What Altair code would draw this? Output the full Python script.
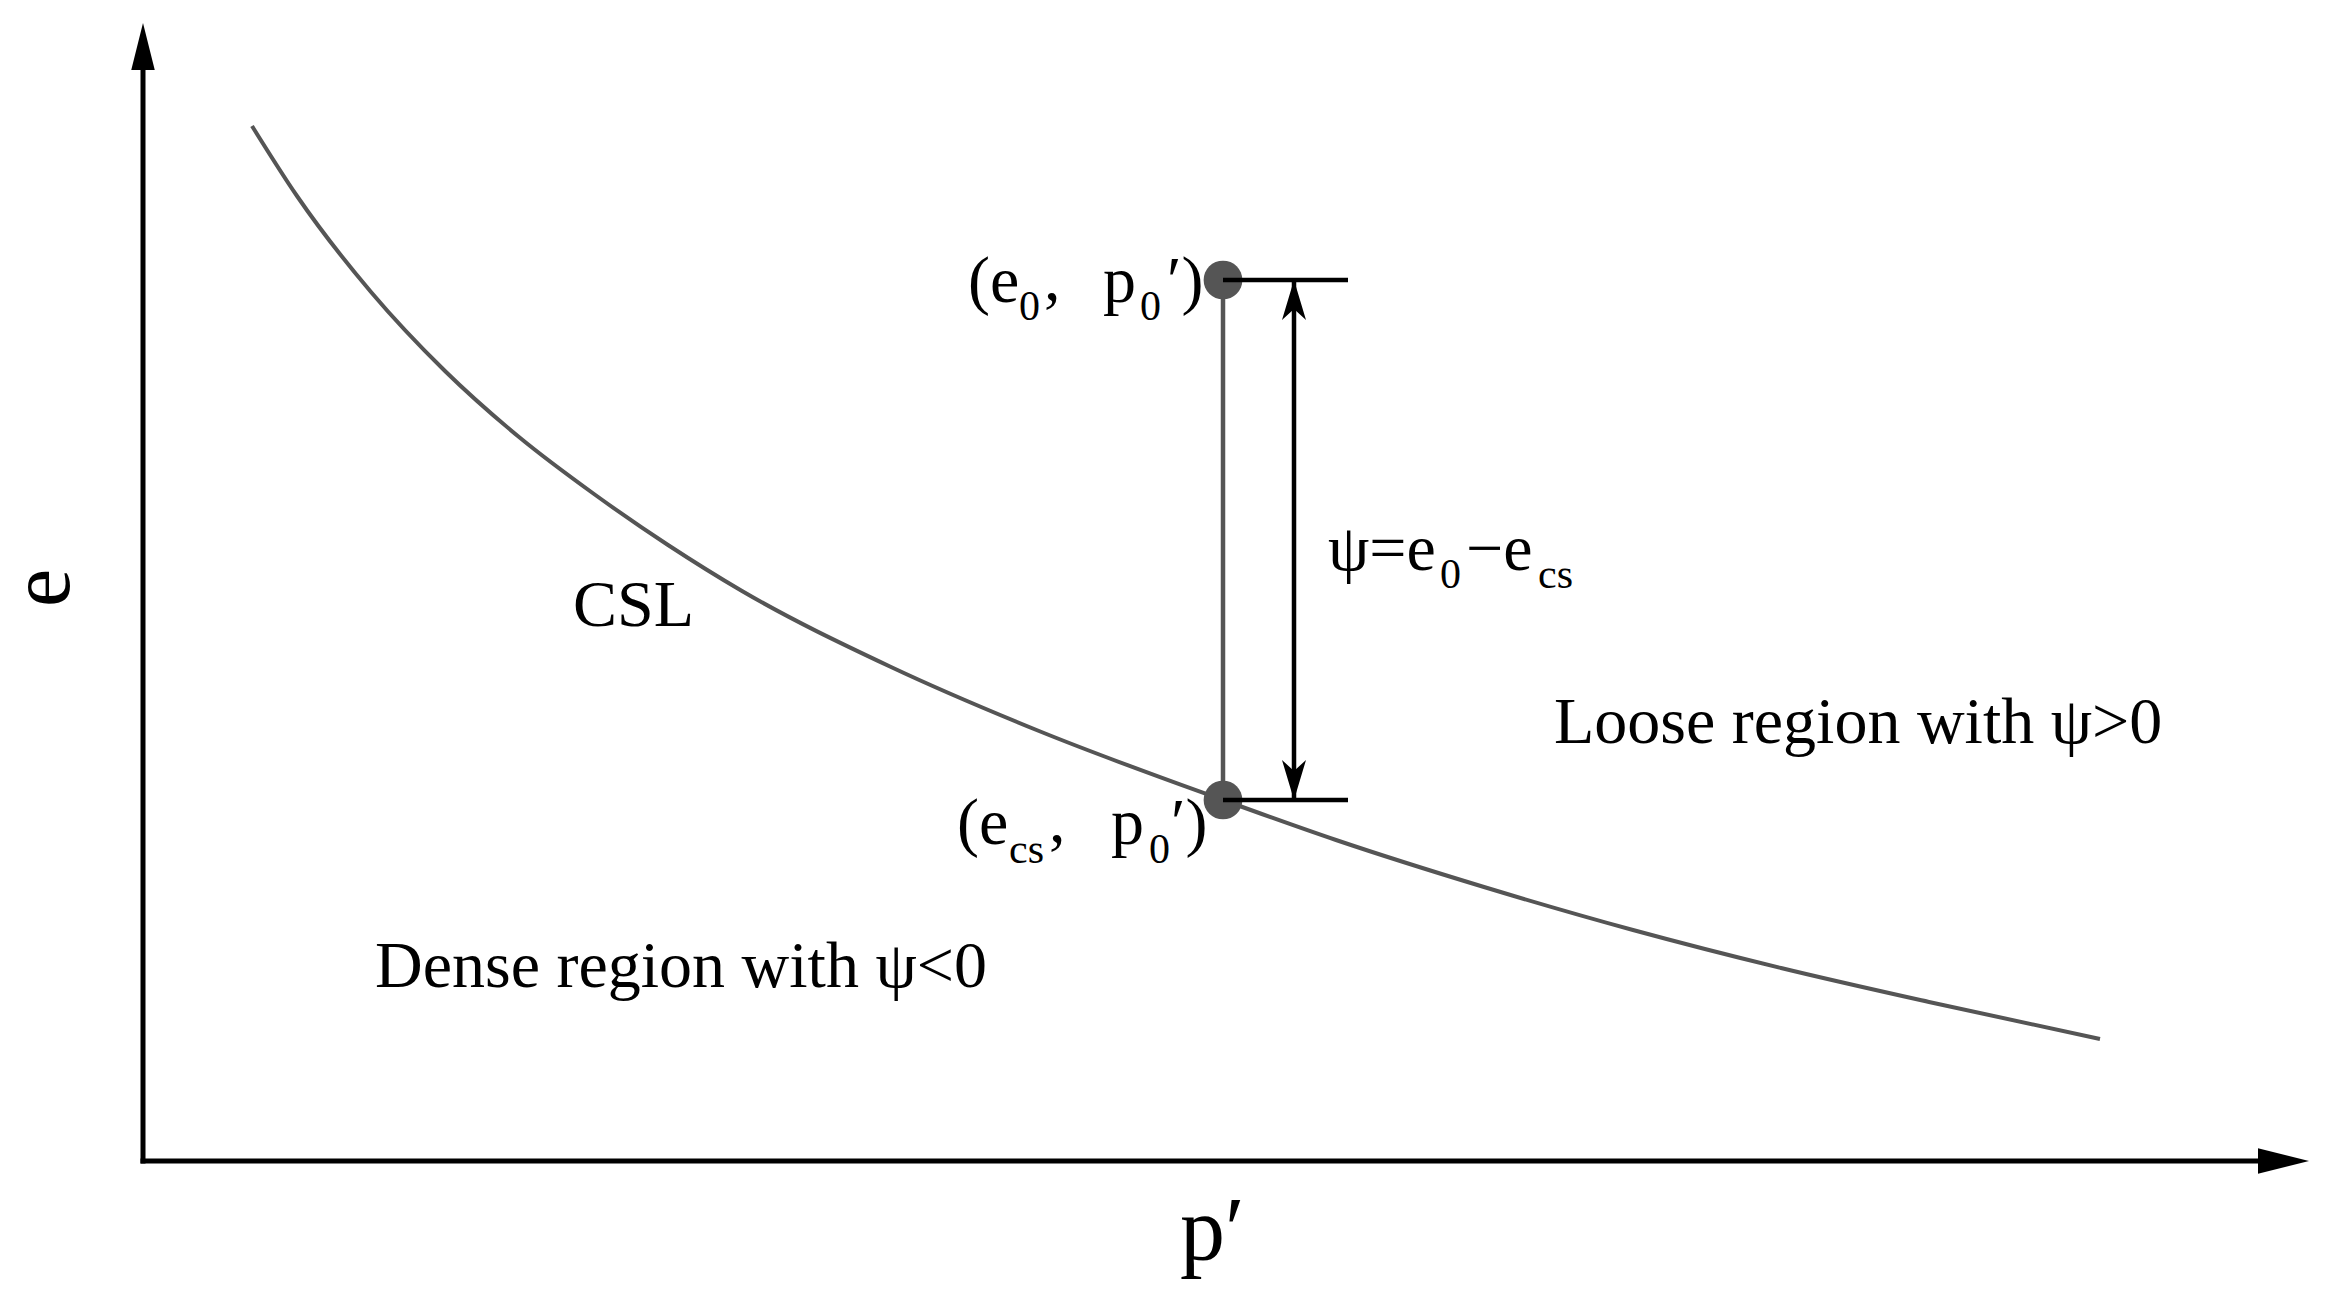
import altair as alt
import pandas as pd

# ---------------- values (schematic units) ----------------
# Critical state line (CSL): p' (horizontal) and e (vertical)
csl_p = [1.09, 1.54, 2.28, 3.02, 3.76, 4.51, 5.25, 5.99, 7.48, 8.96, 10.80,
         11.93, 13.41, 14.90, 16.38, 17.86, 19.57]
csl_e = [10.35, 9.65, 8.69, 7.90, 7.24, 6.67, 6.16, 5.70, 4.94, 4.30, 3.61,
         3.21, 2.74, 2.31, 1.93, 1.59, 1.22]

# state of the soil and its critical-state counterpart
state_p = [10.80, 10.80]
state_e = [8.81, 3.61]          # e0, e_cs

tick_end_p = 12.05              # right end of the two short horizontal marks
psi_arrow_p = 11.51             # position of the double arrow for psi

axis_x_tip = 21.66
axis_y_tip = 11.38

# label pieces (text, p, e, kind)
label_text = ["(e", "0", ",", "p", "0", "′)",
              "(e", "cs", ",", "p", "0", "′)",
              "ψ=e", "0", "−e", "cs",
              "CSL", "Loose region with ψ>0", "Dense region with ψ<0", "p′"]
label_p = [8.25, 8.76, 9.01, 9.60, 9.97, 10.24,
           8.14, 8.66, 9.06, 9.68, 10.06, 10.28,
           11.85, 12.97, 13.23, 13.95,
           4.30, 14.11, 2.32, 10.37]
label_e = [8.59, 8.41, 8.61, 8.59, 8.41, 8.59,
           3.17, 2.98, 3.19, 3.17, 2.98, 3.17,
           5.91, 5.73, 5.91, 5.73,
           5.35, 4.18, 1.74, -0.99]
label_kind = ["main", "sub", "main", "main", "sub", "main",
              "main", "sub", "main", "main", "sub", "main",
              "main", "sub", "main", "sub",
              "main", "main", "main", "axis"]

# ---------------- layout ----------------
W, H = 2311, 1285
PX = 100.0
x_dom = [-1.35, -1.35 + W / PX]
y_dom = [11.53 - H / PX, 11.53]
xs = alt.Scale(domain=x_dom, nice=False, zero=False)
ys = alt.Scale(domain=y_dom, nice=False, zero=False)

size_of = {"main": 66, "sub": 42, "axis": 90}
FONT = "Liberation Serif"
GRAY = "#555555"

csl_df = pd.DataFrame({"p": csl_p, "e": csl_e})
state_df = pd.DataFrame({"p": state_p, "e": state_e})

axes_df = pd.DataFrame({
    "p": [0, 0], "e": [0, 0],
    "p2": [0, axis_x_tip - 0.45], "e2": [axis_y_tip - 0.42, 0],
})
connector_df = pd.DataFrame({"p": [state_p[0]], "e": [state_e[0]],
                             "p2": [state_p[1]], "e2": [state_e[1]]})
ticks_df = pd.DataFrame({"p": state_p, "e": state_e,
                         "p2": [tick_end_p, tick_end_p], "e2": state_e})
shaft_df = pd.DataFrame({"p": [psi_arrow_p], "e": [state_e[0]],
                         "p2": [psi_arrow_p], "e2": [state_e[1]]})

UP_SOLID = "M0,0L0.5,2L-0.5,2Z"
RIGHT_SOLID = "M0,0L-2,0.5L-2,-0.5Z"
UP_BARB = "M0,0L0.6,2L0,1.45L-0.6,2Z"
DOWN_BARB = "M0,0L0.6,-2L0,-1.45L-0.6,-2Z"
heads_df = pd.DataFrame({
    "p": [0, axis_x_tip, psi_arrow_p, psi_arrow_p],
    "e": [axis_y_tip, 0, state_e[0], state_e[1]],
    "shape": [UP_SOLID, RIGHT_SOLID, UP_BARB, DOWN_BARB],
    "sz": [47 ** 2, 51 ** 2, 40 ** 2, 40 ** 2],
})

labels_df = pd.DataFrame({"text": label_text, "p": label_p, "e": label_e,
                          "fs": [size_of[k] for k in label_kind]})
ylab_df = pd.DataFrame({"text": ["e"], "p": [-0.74], "e": [5.73]})


def xe(f="p"):
    return alt.X(f"{f}:Q", scale=xs, axis=None)


def ye(f="e"):
    return alt.Y(f"{f}:Q", scale=ys, axis=None)


axes = alt.Chart(axes_df).mark_rule(color="black", strokeWidth=5, strokeCap="square").encode(
    x=xe(), y=ye(), x2="p2:Q", y2="e2:Q")

heads = alt.Chart(heads_df).mark_point(filled=True, color="black", opacity=1, strokeWidth=0).encode(
    x=xe(), y=ye(),
    shape=alt.Shape("shape:N", scale=None),
    size=alt.Size("sz:Q", scale=None))

csl = alt.Chart(csl_df).mark_line(color=GRAY, strokeWidth=4, interpolate="monotone").encode(
    x=xe(), y=ye())

connector = alt.Chart(connector_df).mark_rule(color=GRAY, strokeWidth=4.5).encode(
    x=xe(), y=ye(), x2="p2:Q", y2="e2:Q")

dots = alt.Chart(state_df).mark_point(filled=True, color=GRAY, opacity=1, shape="circle",
                                      size=1500, strokeWidth=0).encode(x=xe(), y=ye())

ticks = alt.Chart(ticks_df).mark_rule(color="black", strokeWidth=4.5).encode(
    x=xe(), y=ye(), x2="p2:Q", y2="e2:Q")

shaft = alt.Chart(shaft_df).mark_rule(color="black", strokeWidth=4.5).encode(
    x=xe(), y=ye(), x2="p2:Q", y2="e2:Q")

labels = alt.Chart(labels_df).mark_text(font=FONT, align="left", baseline="alphabetic",
                                        color="black").encode(
    x=xe(), y=ye(), text="text:N", size=alt.Size("fs:Q", scale=None))

ylab = alt.Chart(ylab_df).mark_text(font=FONT, align="center", baseline="alphabetic",
                                    angle=270, fontSize=86, color="black").encode(
    x=xe(), y=ye(), text="text:N")

chart = alt.layer(csl, connector, shaft, axes, dots, ticks, heads, labels, ylab).properties(
    width=W, height=H, autosize=alt.AutoSizeParams(type="none"), padding=0,
    background="white",
).configure_view(stroke=None)

chart.save("out.html", embed_options={"renderer": "svg", "actions": False})
